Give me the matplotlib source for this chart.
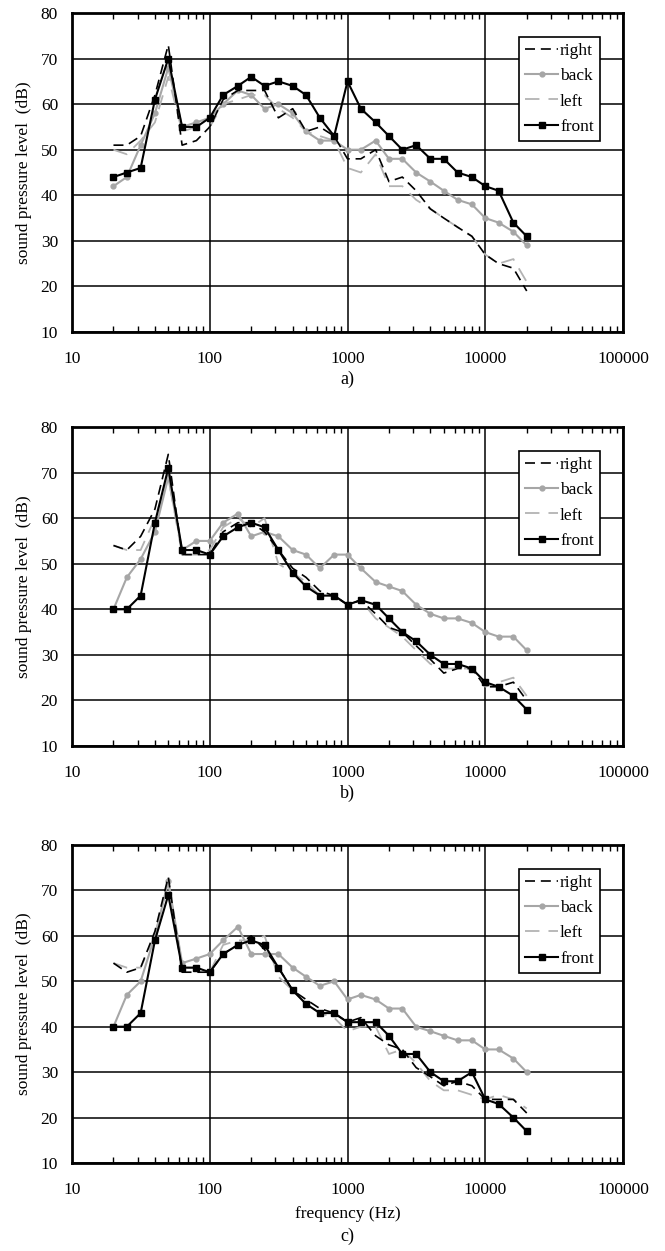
import matplotlib
matplotlib.use("Agg")
import matplotlib.pyplot as plt
import numpy as np
from matplotlib.ticker import LogLocator, NullFormatter, FixedLocator, FixedFormatter

freq = [20, 25, 31.5, 40, 50, 63, 80, 100, 125, 160, 200, 250, 315, 400, 500, 630, 800,
        1000, 1250, 1600, 2000, 2500, 3150, 4000, 5000, 6300, 8000, 10000, 12500, 16000, 20000]

# panel a
a_right = [51, 51, 53, 62, 73, 51, 52, 55, 61, 63, 63, 63, 57, 59, 54, 55, 53,
           48, 48, 50, 43, 44, 41, 37, 35, 33, 31, 27, 25, 24, 19]
a_back = [42, 44, 51, 58, 68, 55, 56, 57, 60, 63, 62, 59, 60, 58, 54, 52, 52,
          50, 50, 52, 48, 48, 45, 43, 41, 39, 38, 35, 34, 32, 29]
a_left = [50, 49, 52, 56, 66, 54, 55, 55, 60, 61, 62, 62, 59, 57, 54, 53, 52,
          46, 45, 49, 42, 42, 39, 37, 35, 33, 31, 27, 25, 26, 21]
a_front = [44, 45, 46, 61, 70, 55, 55, 57, 62, 64, 66, 64, 65, 64, 62, 57, 53,
           65, 59, 56, 53, 50, 51, 48, 48, 45, 44, 42, 41, 34, 31]

# panel b
b_right = [54, 53, 56, 62, 74, 52, 52, 52, 57, 59, 59, 57, 53, 49, 47, 44, 43,
           41, 42, 39, 36, 35, 32, 29, 26, 27, 27, 23, 23, 24, 20]
b_back = [40, 47, 51, 57, 69, 53, 55, 55, 59, 61, 56, 57, 56, 53, 52, 49, 52,
          52, 49, 46, 45, 44, 41, 39, 38, 38, 37, 35, 34, 34, 31]
b_left = [54, 53, 53, 60, 69, 52, 52, 53, 58, 60, 58, 60, 50, 48, 46, 43, 43,
          41, 42, 38, 36, 34, 31, 28, 27, 27, 27, 23, 24, 25, 21]
b_front = [40, 40, 43, 59, 71, 53, 53, 52, 56, 58, 59, 58, 53, 48, 45, 43, 43,
           41, 42, 41, 38, 35, 33, 30, 28, 28, 27, 24, 23, 21, 18]

# panel c
c_right = [54, 52, 53, 61, 73, 52, 52, 52, 56, 58, 60, 57, 53, 48, 46, 44, 43,
           41, 42, 38, 36, 35, 31, 29, 27, 28, 27, 24, 24, 24, 21]
c_back = [40, 47, 50, 60, 72, 54, 55, 56, 59, 62, 56, 56, 56, 53, 51, 49, 50,
          46, 47, 46, 44, 44, 40, 39, 38, 37, 37, 35, 35, 33, 30]
c_left = [54, 53, 53, 60, 72, 53, 53, 52, 58, 59, 59, 60, 51, 48, 45, 43, 42,
          39, 40, 40, 34, 35, 32, 28, 26, 26, 25, 24, 25, 24, 22]
c_front = [40, 40, 43, 59, 69, 53, 53, 52, 56, 58, 59, 58, 53, 48, 45, 43, 43,
           41, 41, 41, 38, 34, 34, 30, 28, 28, 30, 24, 23, 20, 17]

panels = [
    ("a)", a_right, a_back, a_left, a_front),
    ("b)", b_right, b_back, b_left, b_front),
    ("c)", c_right, c_back, c_left, c_front),
]

x_ticks = [10, 100, 1000, 10000, 100000]
x_tick_labels = ["10", "100", "1000", "10000", "100000"]
y_ticks = [10, 20, 30, 40, 50, 60, 70, 80]
y_tick_labels = ["10", "20", "30", "40", "50", "60", "70", "80"]

plt.rcParams['font.family'] = ['Liberation Serif', 'DejaVu Serif']

W, H = 665, 1251
fig = plt.figure(figsize=(W / 100, H / 100), dpi=100)

ax_left = 72 / W
ax_w = 551 / W
tops = [13, 427, 845]
bottoms = [332, 746, 1163]

for i, (lab, r, b, l, f) in enumerate(panels):
    ax = fig.add_axes([ax_left, 1 - bottoms[i] / H, ax_w, (bottoms[i] - tops[i]) / H])
    ax.set_xscale('log')
    ax.set_xlim(10, 100000)
    ax.set_ylim(10, 80)
    ax.plot(freq, r, color='black', lw=1.2, ls=(0, (6, 3.5)), label='right', zorder=3)
    ax.plot(freq, b, color='#a6a6a6', lw=1.5, marker='o', ms=3.5, mec='#a6a6a6',
            mfc='#a6a6a6', label='back', zorder=2)
    ax.plot(freq, l, color='#b3b3b3', lw=1.3, ls=(0, (8, 5)), label='left', zorder=2)
    ax.plot(freq, f, color='black', lw=1.5, marker='s', ms=4, label='front', zorder=4)

    ax.xaxis.set_major_locator(FixedLocator(x_ticks))
    ax.xaxis.set_major_formatter(FixedFormatter(x_tick_labels))
    ax.xaxis.set_minor_locator(LogLocator(base=10, subs=np.arange(2, 10), numticks=20))
    ax.xaxis.set_minor_formatter(NullFormatter())
    ax.yaxis.set_major_locator(FixedLocator(y_ticks))
    ax.yaxis.set_major_formatter(FixedFormatter(y_tick_labels))

    ax.grid(True, which='major', color='black', lw=1.1)
    ax.set_axisbelow(True)
    ax.tick_params(axis='x', which='minor', direction='in', top=True, bottom=True,
                   length=4, width=1, color='black')
    ax.tick_params(axis='x', which='major', direction='in', top=True, bottom=True,
                   length=0, pad=13.5, labelsize=12.5)
    ax.tick_params(axis='y', which='major', length=0, pad=10, labelsize=12.5)
    for sp in ax.spines.values():
        sp.set_linewidth(2)
        sp.set_color('black')
    ax.set_ylabel('sound pressure level  (dB)', fontsize=12.5, labelpad=6)
    if i == 2:
        ax.set_xlabel('frequency (Hz)', fontsize=12.5, labelpad=6)

    leg = ax.legend(loc='upper right', bbox_to_anchor=(0.958, 0.925), fontsize=12.5,
                    frameon=True, fancybox=False, shadow=False, framealpha=1,
                    edgecolor='black', handlelength=1.9, handletextpad=0.1,
                    borderpad=0.35, labelspacing=0.52, borderaxespad=0)
    leg.get_frame().set_linewidth(1.2)

    fig.text(ax_left + ax_w / 2, 1 - (bottoms[i] + (47 if i < 2 else 73)) / H, lab,
             ha='center', va='center', fontsize=13)

fig.savefig('out.png', dpi=100)
